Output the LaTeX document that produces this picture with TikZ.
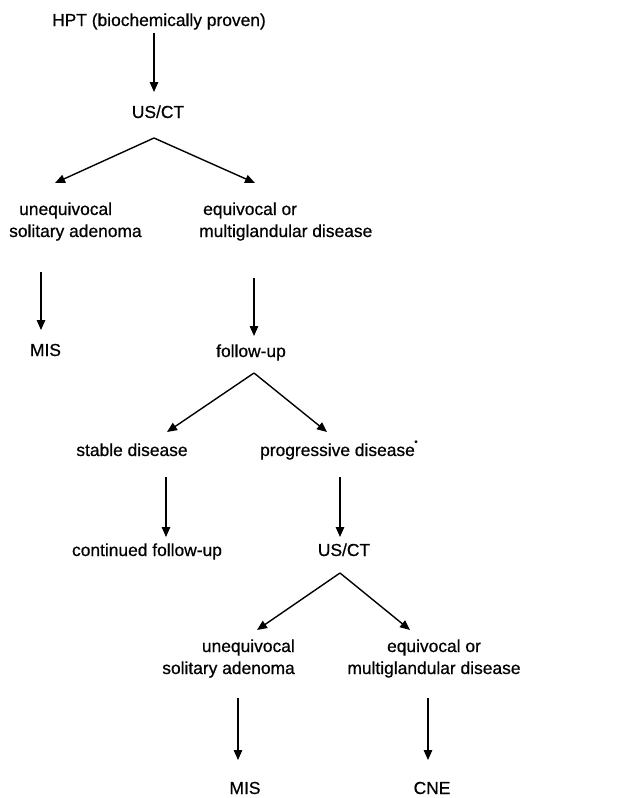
\documentclass[tikz,border=0pt]{standalone}
\usepackage{fontspec}
\setmainfont{Liberation Sans}[FakeBold=0.6]
\usetikzlibrary{arrows.meta}
\begin{document}
\begin{tikzpicture}[x=1pt,y=1pt,
  lbl/.style={inner sep=0pt, font=\fontsize{17.4}{22}\selectfont},
  arr/.style={line width=1.4pt, -{Triangle[length=10pt,width=8.5pt]}}]
\useasboundingbox (0,0) rectangle (629,-798);
% labels
\node[lbl, anchor=base] (hpt) at (159,-26) {HPT (biochemically proven)};
\node[lbl, anchor=base] (us1) at (158,-118) {US/CT};
\node[lbl, anchor=base west] (ul1) at (9,-215) {\begin{tabular}[t]{@{}l@{}}\hspace{10pt}unequivocal\\solitary adenoma\end{tabular}};
\node[lbl, anchor=base west] (ur1) at (199,-215) {\begin{tabular}[t]{@{}l@{}}\hspace{4pt}equivocal or\\multiglandular disease\end{tabular}};
\node[lbl, anchor=base] (mis1) at (45.5,-356) {MIS};
\node[lbl, anchor=base] (fu) at (251,-357) {follow-up};
\node[lbl, anchor=base] (stable) at (132,-456) {stable disease};
\node[lbl, anchor=base] (prog) at (337.5,-456) {progressive disease};
\node[inner sep=0pt, font=\fontsize{8}{9}\selectfont] (star) at (416,-443) {*};
\node[lbl, anchor=base] (cont) at (147,-556) {continued follow-up};
\node[lbl, anchor=base] (us2) at (344,-556) {US/CT};
\node[lbl, anchor=base east] (ul2) at (295,-652) {\begin{tabular}[t]{@{}r@{}}unequivocal\\solitary adenoma\end{tabular}};
\node[lbl, anchor=base] (ur2) at (434,-652) {\begin{tabular}[t]{@{}c@{}}equivocal or\\multiglandular disease\end{tabular}};
\node[lbl, anchor=base] (mis2) at (245,-794) {MIS};
\node[lbl, anchor=base] (cne) at (432,-794) {CNE};
% connector end points
\coordinate (a1s) at (154,-33);  \coordinate (a1e) at (154,-92);
\coordinate (b1) at (154,-138);  \coordinate (b1l) at (55,-183);  \coordinate (b1r) at (255,-183);
\coordinate (a2s) at (41,-272);  \coordinate (a2e) at (41,-330);
\coordinate (a3s) at (254,-278); \coordinate (a3e) at (254,-336);
\coordinate (b2) at (254,-373);  \coordinate (b2l) at (167,-432); \coordinate (b2r) at (327,-432);
\coordinate (a4s) at (166,-477); \coordinate (a4e) at (166,-537);
\coordinate (a5s) at (340,-477); \coordinate (a5e) at (340,-537);
\coordinate (b3) at (340,-573);  \coordinate (b3l) at (257,-630); \coordinate (b3r) at (410,-630);
\coordinate (a6s) at (238,-698); \coordinate (a6e) at (238,-760);
\coordinate (a7s) at (428,-698); \coordinate (a7e) at (428,-760);
% connectors
\draw[arr] (a1s) -- (a1e);
\draw[arr] (b1) -- (b1l);
\draw[arr] (b1) -- (b1r);
\draw[arr] (a2s) -- (a2e);
\draw[arr] (a3s) -- (a3e);
\draw[arr] (b2) -- (b2l);
\draw[arr] (b2) -- (b2r);
\draw[arr] (a4s) -- (a4e);
\draw[arr] (a5s) -- (a5e);
\draw[arr] (b3) -- (b3l);
\draw[arr] (b3) -- (b3r);
\draw[arr] (a6s) -- (a6e);
\draw[arr] (a7s) -- (a7e);
\end{tikzpicture}
\end{document}
